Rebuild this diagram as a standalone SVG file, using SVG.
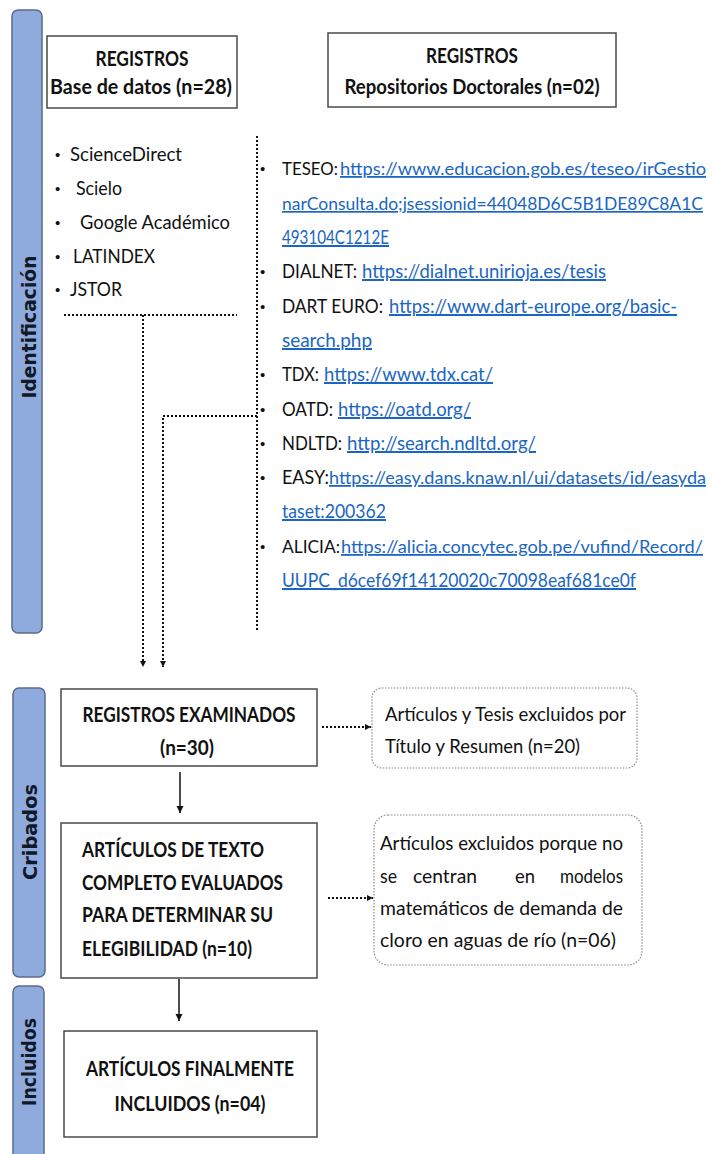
<svg xmlns="http://www.w3.org/2000/svg" width="713" height="1154" viewBox="0 0 713 1154">
<defs>
<marker id="ah" markerUnits="userSpaceOnUse" markerWidth="8" markerHeight="8" refX="7" refY="4" orient="auto"><path d="M0,0.5 L7,4 L0,7.5 z" fill="#111"/></marker>
<marker id="ahs" markerUnits="userSpaceOnUse" markerWidth="7" markerHeight="7" refX="6" refY="3.5" orient="auto"><path d="M0,0.5 L6,3.5 L0,6.5 z" fill="#111"/></marker>
<style>
.side{fill:#8faadc;stroke:#5b6b8c;stroke-width:1.5}
.stxt{font-family:"DejaVu Sans",sans-serif;font-weight:bold;font-size:19px;fill:#111827}
.box{fill:#fff;stroke:#4a4a4a;stroke-width:1.5}
.dbox{fill:#fff;stroke:#8a8a8a;stroke-width:1.2;stroke-dasharray:1.5 1.5}
.t{font-family:Lato,"Liberation Sans",sans-serif;font-size:20px;fill:#111}
.s{font-size:18px}
.xs{font-size:17px}
.bl{font-family:"Liberation Sans",sans-serif;font-size:15px;fill:#111}
.b{font-weight:bold}
.lnk{fill:#1a66c2;text-decoration:underline}
.dot{fill:none;stroke:#111;stroke-width:2;stroke-dasharray:2 2}
.sol{fill:none;stroke:#111;stroke-width:1.5}
</style>
</defs>
<rect width="713" height="1154" fill="#fff"/>

<g id="side-identificacion">
<rect class="side" x="12" y="10" width="30" height="623" rx="6"/>
<text class="stxt" transform="translate(36,327) rotate(-90)" text-anchor="middle" textLength="143" lengthAdjust="spacingAndGlyphs">Identificación</text>
</g>
<g id="side-cribados">
<rect class="side" x="13" y="688" width="32" height="289" rx="6"/>
<text class="stxt" transform="translate(37,832) rotate(-90)" text-anchor="middle" textLength="96" lengthAdjust="spacingAndGlyphs">Cribados</text>
</g>
<g id="side-incluidos">
<rect class="side" x="13" y="986" width="31" height="200" rx="6"/>
<text class="stxt" transform="translate(36,1062) rotate(-90)" text-anchor="middle" textLength="88" lengthAdjust="spacingAndGlyphs">Incluidos</text>
</g>

<g id="registros-bd">
<rect class="box" x="47" y="36" width="190" height="72"/>
<text class="t b" x="142" y="66" text-anchor="middle" textLength="93" lengthAdjust="spacingAndGlyphs">REGISTROS</text>
<text class="t b" x="141" y="94" text-anchor="middle" textLength="182" lengthAdjust="spacingAndGlyphs">Base de datos (n=28)</text>
</g>

<g id="registros-rep">
<rect class="box" x="328" y="33" width="288" height="74"/>
<text class="t b" x="472" y="63" text-anchor="middle" textLength="92" lengthAdjust="spacingAndGlyphs">REGISTROS</text>
<text class="t b" x="472" y="94" text-anchor="middle" textLength="255" lengthAdjust="spacingAndGlyphs">Repositorios Doctorales (n=02)</text>
</g>

<g id="lista-bd">
<text class="bl" x="55" y="160">•</text>
<text class="t" x="70" y="161" textLength="112" lengthAdjust="spacingAndGlyphs">ScienceDirect</text>
<text class="bl" x="55" y="194">•</text>
<text class="t" x="76" y="195" textLength="46" lengthAdjust="spacingAndGlyphs">Scielo</text>
<text class="bl" x="55" y="228">•</text>
<text class="t" x="80" y="229" textLength="150" lengthAdjust="spacingAndGlyphs">Google Académico</text>
<text class="bl" x="55" y="262">•</text>
<text class="t" x="73" y="263" textLength="82" lengthAdjust="spacingAndGlyphs">LATINDEX</text>
<text class="bl" x="55" y="295">•</text>
<text class="t" x="70" y="296" textLength="52" lengthAdjust="spacingAndGlyphs">JSTOR</text>
</g>

<g id="lista-rep">
<text class="bl" x="260" y="174">•</text>
<text class="t s" x="282" y="175" textLength="56" lengthAdjust="spacingAndGlyphs">TESEO:</text>
<text class="t s lnk" x="340" y="175" textLength="366" lengthAdjust="spacingAndGlyphs">https://www.educacion.gob.es/teseo/irGestio</text>
<text class="t xs lnk" x="282" y="210" textLength="421" lengthAdjust="spacingAndGlyphs">narConsulta.do;jsessionid=44048D6C5B1DE89C8A1C</text>
<text class="t lnk" x="282" y="244" textLength="107" lengthAdjust="spacingAndGlyphs">493104C1212E</text>
<text class="bl" x="260" y="277">•</text>
<text class="t" x="282" y="278" textLength="75" lengthAdjust="spacingAndGlyphs">DIALNET:</text>
<text class="t lnk" x="362" y="278" textLength="244" lengthAdjust="spacingAndGlyphs">https://dialnet.unirioja.es/tesis</text>
<text class="bl" x="260" y="312">•</text>
<text class="t" x="282" y="313" textLength="101" lengthAdjust="spacingAndGlyphs">DART EURO:</text>
<text class="t lnk" x="389" y="313" textLength="288" lengthAdjust="spacingAndGlyphs">https://www.dart-europe.org/basic-</text>
<text class="t lnk" x="282" y="347" textLength="90" lengthAdjust="spacingAndGlyphs">search.php</text>
<text class="bl" x="260" y="380">•</text>
<text class="t" x="282" y="381" textLength="37" lengthAdjust="spacingAndGlyphs">TDX:</text>
<text class="t lnk" x="324" y="381" textLength="169" lengthAdjust="spacingAndGlyphs">https://www.tdx.cat/</text>
<text class="bl" x="260" y="415">•</text>
<text class="t" x="282" y="416" textLength="51" lengthAdjust="spacingAndGlyphs">OATD:</text>
<text class="t lnk" x="338" y="416" textLength="133" lengthAdjust="spacingAndGlyphs">https://oatd.org/</text>
<text class="bl" x="260" y="449">•</text>
<text class="t" x="282" y="450" textLength="60" lengthAdjust="spacingAndGlyphs">NDLTD:</text>
<text class="t lnk" x="347" y="450" textLength="189" lengthAdjust="spacingAndGlyphs">http://search.ndltd.org/</text>
<text class="bl" x="260" y="483">•</text>
<text class="t" x="282" y="484" textLength="47" lengthAdjust="spacingAndGlyphs">EASY:</text>
<text class="t s lnk" x="329" y="484" textLength="377" lengthAdjust="spacingAndGlyphs">https://easy.dans.knaw.nl/ui/datasets/id/easyda</text>
<text class="t lnk" x="282" y="518" textLength="104" lengthAdjust="spacingAndGlyphs">taset:200362</text>
<text class="bl" x="260" y="552">•</text>
<text class="t s" x="282" y="553" textLength="58" lengthAdjust="spacingAndGlyphs">ALICIA:</text>
<text class="t s lnk" x="341" y="553" textLength="362" lengthAdjust="spacingAndGlyphs">https://alicia.concytec.gob.pe/vufind/Record/</text>
<text class="t lnk" x="282" y="587" textLength="354" lengthAdjust="spacingAndGlyphs">UUPC_d6cef69f14120020c70098eaf681ce0f</text>
</g>

<g id="registros-examinados">
<rect class="box" x="61" y="689" width="256" height="77"/>
<text class="t b" x="189" y="722" text-anchor="middle" textLength="213" lengthAdjust="spacingAndGlyphs">REGISTROS EXAMINADOS</text>
<text class="t b" x="187" y="755" text-anchor="middle" textLength="54" lengthAdjust="spacingAndGlyphs">(n=30)</text>
</g>

<g id="articulos-evaluados">
<rect class="box" x="61" y="823" width="256" height="155"/>
<text class="t b" x="82" y="857" textLength="182" lengthAdjust="spacingAndGlyphs">ARTÍCULOS DE TEXTO</text>
<text class="t b" x="82" y="890" textLength="201" lengthAdjust="spacingAndGlyphs">COMPLETO EVALUADOS</text>
<text class="t b" x="82" y="922" textLength="191" lengthAdjust="spacingAndGlyphs">PARA DETERMINAR SU</text>
<text class="t b" x="82" y="956" textLength="170" lengthAdjust="spacingAndGlyphs">ELEGIBILIDAD (n=10)</text>
</g>

<g id="articulos-incluidos">
<rect class="box" x="64" y="1031" width="253" height="106"/>
<text class="t b" x="190" y="1076" text-anchor="middle" textLength="208" lengthAdjust="spacingAndGlyphs">ARTÍCULOS FINALMENTE</text>
<text class="t b" x="190" y="1111" text-anchor="middle" textLength="151" lengthAdjust="spacingAndGlyphs">INCLUIDOS (n=04)</text>
</g>

<g id="excluidos-titulo">
<rect class="dbox" x="372" y="688" width="265" height="80" rx="10"/>
<text class="t" x="385" y="721" textLength="241" lengthAdjust="spacingAndGlyphs">Artículos y Tesis excluidos por</text>
<text class="t" x="385" y="753" textLength="195" lengthAdjust="spacingAndGlyphs">Título y Resumen (n=20)</text>
</g>

<g id="excluidos-modelos">
<rect class="dbox" x="374" y="815" width="268" height="150" rx="14"/>
<text class="t" x="380" y="850" textLength="243" lengthAdjust="spacingAndGlyphs">Artículos excluidos porque no</text>
<text class="t" x="380" y="883" textLength="17" lengthAdjust="spacingAndGlyphs">se</text>
<text class="t" x="413" y="883" textLength="64" lengthAdjust="spacingAndGlyphs">centran</text>
<text class="t" x="515" y="883" textLength="20" lengthAdjust="spacingAndGlyphs">en</text>
<text class="t" x="560" y="883" textLength="63" lengthAdjust="spacingAndGlyphs">modelos</text>
<text class="t" x="380" y="915" textLength="243" lengthAdjust="spacingAndGlyphs">matemáticos de demanda de</text>
<text class="t" x="380" y="947" textLength="236" lengthAdjust="spacingAndGlyphs">cloro en aguas de río (n=06)</text>
</g>

<g id="connectors">
<path class="dot" d="M64 315 H237"/>
<path class="dot" d="M143 315 V667" marker-end="url(#ahs)"/>
<path class="dot" d="M257 136 V632"/>
<path class="dot" d="M257 416 H163 V667" marker-end="url(#ahs)"/>
<path class="dot" d="M322 727 H371" marker-end="url(#ahs)"/>
<path class="dot" d="M328 898 H373" marker-end="url(#ahs)"/>
<path class="sol" d="M180 772 V813" marker-end="url(#ah)"/>
<path class="sol" d="M179 979 V1021" marker-end="url(#ah)"/>
</g>
</svg>
